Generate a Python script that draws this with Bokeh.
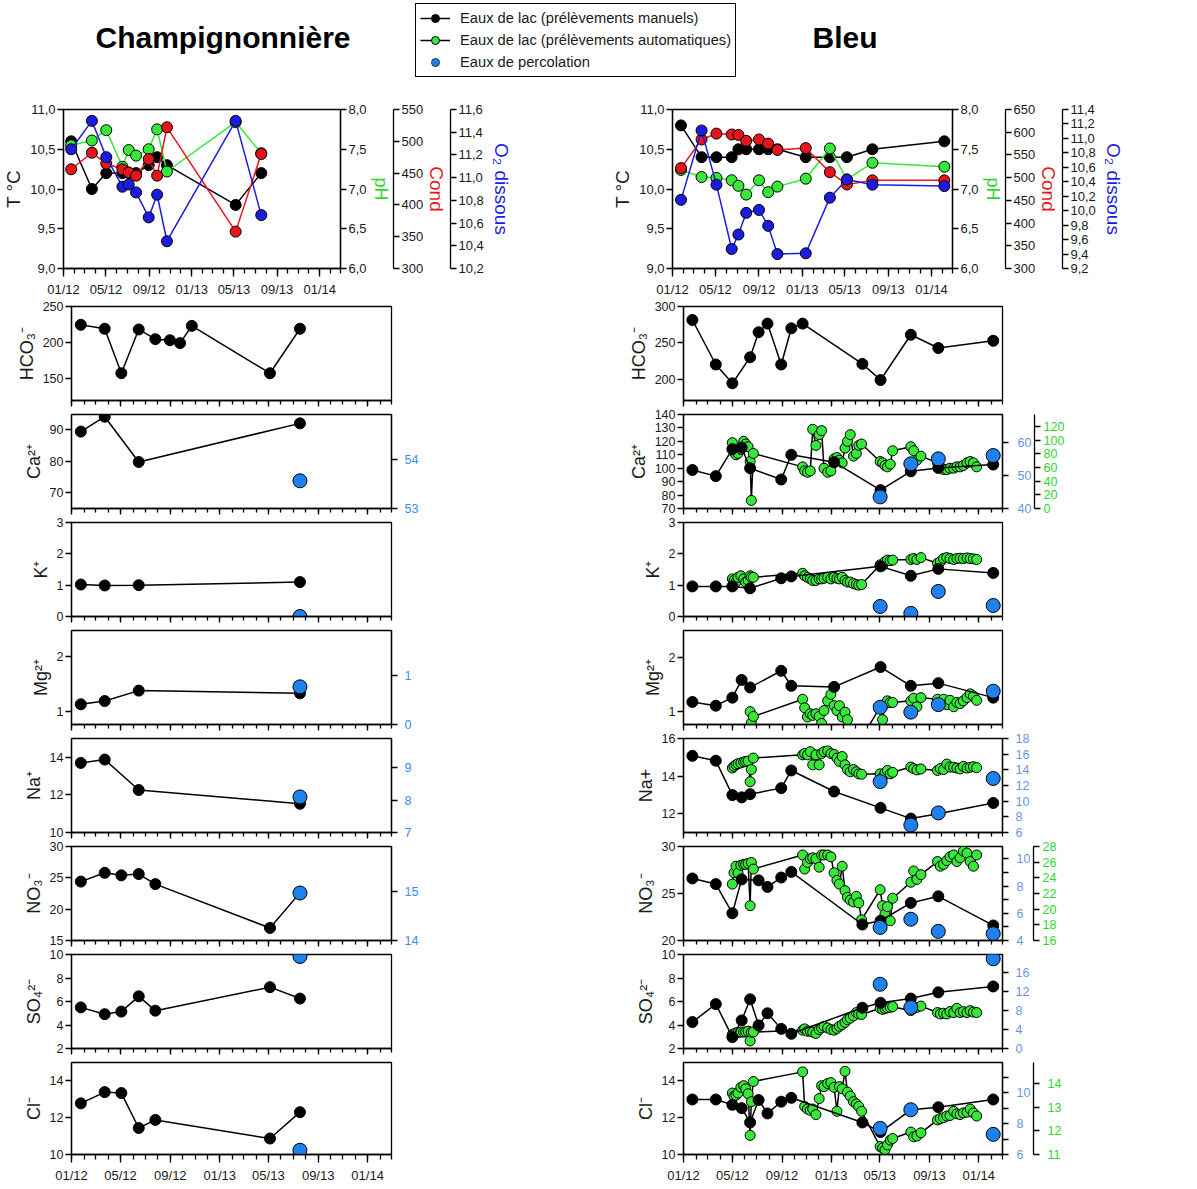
import pandas as pd
from bokeh.plotting import figure
from bokeh.models import (Range1d, LinearAxis, FixedTicker, CustomJSTickFormatter,
                          CustomLabelingPolicy, Legend, LegendItem, Label, ColumnDataSource)
from bokeh.layouts import column, row
from bokeh.embed import file_html
from bokeh.resources import INLINE

# ---------------------------------------------------------------- data
site_titles = ["Champignonnière", "Bleu"]
legend_labels = ["Eaux de lac (prélèvements manuels)",
                 "Eaux de lac (prélèvements automatiques)",
                 "Eaux de percolation"]
top_axis_titles = ["pH", "Cond", "O₂ dissous"]
x_tick_dates = ["2012-01-01", "2012-05-01", "2012-09-01", "2013-01-01",
                "2013-05-01", "2013-09-01", "2014-01-01"]
x_tick_labels = ["01/12", "05/12", "09/12", "01/13", "05/13", "09/13", "01/14"]

# --- Champignonnière (days since 2012-01-01)
ch_top_days = [22, 81, 122, 168, 186, 207, 243, 267, 295, 491, 564]
ch_temp = [10.60, 10.00, 10.20, 10.20, 10.20, 10.20, 10.30, 10.40, 10.30, 9.80, 10.20]
ch_ph = [7.55, 7.61, 7.74, 7.28, 7.49, 7.42, 7.50, 7.75, 7.22, 7.84, 7.45]
ch_cond = [456, 482, 465, 456, 451, 446, 472, 446, 522, 358, 480]
ch_o2 = [11.25, 11.50, 11.18, 10.92, 10.94, 10.87, 10.65, 10.85, 10.44, 11.50, 10.67]

ch_hco3_days = [23, 82, 123, 166, 207, 243, 268, 297, 490, 564]
ch_hco3 = [224.5, 219, 157, 218, 204.5, 203, 199, 223, 157, 219]
ch_cat_days = [23, 82, 166, 564]
ch_ca = [89.4, 94.1, 79.8, 92.0]
ch_k = [1.02, 0.99, 1.00, 1.10]
ch_mg = [1.13, 1.19, 1.38, 1.33]
ch_na = [13.70, 13.88, 12.26, 11.53]
ch_an_days = [23, 82, 123, 166, 207, 490, 564]
ch_no3 = [24.4, 25.8, 25.4, 25.6, 24.0, 17.0, 22.6]
ch_so4 = [5.50, 4.92, 5.14, 6.44, 5.22, 7.22, 6.25]
ch_cl = [12.78, 13.39, 13.34, 11.44, 11.88, 10.87, 12.30]
ch_perc_days = [564]
ch_perc_ca = [53.56]
ch_perc_k = [0.0]
ch_perc_mg = [0.765]
ch_perc_na = [8.1]
ch_perc_no3 = [14.96]
ch_perc_so4 = [9.83]
ch_perc_cl = [10.23]

# --- Bleu
bl_top_days = [24, 82, 124, 167, 186, 208, 244, 270, 296, 376, 444, 492, 564, 767]
bl_temp = [10.80, 10.40, 10.40, 10.40, 10.50, 10.50, 10.50, 10.50, 10.50, 10.40, 10.40, 10.40, 10.50, 10.60]
bl_ph = [7.24, 7.15, 7.14, 7.11, 7.04, 6.93, 7.11, 6.96, 7.03, 7.13, 7.51, 7.12, 7.33, 7.28]
bl_cond = [521, 584, 597, 595, 594, 581, 584, 575, 561, 565, 512, 485, 494, 494]
bl_o2 = [10.15, 11.11, 10.36, 9.47, 9.67, 9.97, 10.01, 9.79, 9.40, 9.41, 10.18, 10.43, 10.36, 10.34]

bl_man_days = [22, 80, 121, 144, 165, 186, 208, 242, 267, 295, 373, 443, 488, 563, 631, 767]
bl_hco3 = [281.5, 220.4, 194.6, None, 230.3, 264.7, 276.5, 220.4, 270.1, 276.5, None, 221.3, 199.1, 261.2, 243.0, 253.0]
bl_ca = [98.7, 94.1, 114.2, 115.4, 100.0, None, None, 91.6, 110.0, None, 104.5, None, 83.7, 97.7, 100.2, 102.7]
bl_k = [0.96, 0.96, 0.96, None, 0.90, None, None, 1.22, 1.28, None, None, None, 1.60, 1.30, 1.52, 1.39]
bl_mg = [1.18, 1.11, 1.26, 1.59, 1.45, None, None, 1.76, 1.48, None, 1.46, None, 1.83, 1.48, 1.53, 1.26]
bl_na = [15.08, 14.82, 12.99, 12.87, 13.04, None, None, 13.36, 14.30, None, 13.18, None, 12.31, 11.74, 12.00, 12.57]
bl_no3 = [26.6, 26.0, 22.9, 26.5, None, 26.4, 25.7, 26.7, 27.3, None, None, 21.7, 22.1, 24.0, 24.7, 21.6]
bl_so4 = [4.25, 5.78, 2.97, 4.39, 6.19, 3.97, 5.00, 3.67, 3.25, None, None, 5.47, 5.89, 6.25, 6.78, 7.28]
bl_cl = [12.99, 12.99, 12.70, 12.52, 11.74, 12.96, 12.23, 12.87, 13.08, None, None, 11.74, 11.22, 12.43, 12.57, 12.99]

bl_auto_days = [121, 125, 130, 135, 142, 149, 154, 160, 165, 168, 173,
                295, 300, 307, 314, 320, 328, 336, 342, 348, 357, 365, 373, 380, 386, 393, 400, 406, 413, 421, 428, 434, 441,
                487, 493, 499, 505, 512, 518, 563, 570, 578, 588,
                629, 636, 644, 652, 660, 669, 677, 685, 693, 702, 710, 718, 726]
bl_auto_ca = [119, 112, 110, 111, 114, 120, 118, 116, 105, 76, 111,
              101, 98, 97, 98, 129, 117, 125, 128, 100, 97, 98, 107, 108, 106, 104, 115, 120, 125, 109, 111, 117, 118,
              105, 104, 102, 101, 103, 113, 116, 113, 106, 109,
              104, 101, 99, 99, 100, 100, 101, 101, 102, 104, 105, 104, 101]
bl_auto_k = [1.20, 1.15, 1.10, 1.25, 1.30, 1.20, 1.10, 1.15, 1.30, 1.25, 1.25,
             1.38, 1.30, 1.25, 1.20, 1.15, 1.15, 1.20, 1.20, 1.22, 1.25, 1.20, 1.25, 1.22, 1.20, 1.25, 1.15, 1.10, 1.10, 1.05, 1.02, 1.00, 1.02,
             1.65, 1.62, 1.75, 1.80, 1.78, 1.80, 1.82, 1.85, 1.82, 1.88,
             1.70, 1.75, 1.85, 1.88, 1.85, 1.82, 1.85, 1.86, 1.85, 1.87, 1.85, 1.84, 1.82]
bl_auto_mg = [None, None, None, None, None, None, None, None, 1.00, 0.79, 0.91,
              1.23, 1.07, 0.90, 0.96, 0.93, 0.96, 0.91, 0.78, 1.02, 1.20, 1.32, 1.11, 1.02, 1.11, 0.90, 0.99, 0.85, 0.50, None, None, None, 0.50,
              1.09, 0.85, 1.14, 1.20, 1.17, 1.17, 1.20, 1.25, 1.09, 1.26,
              1.23, 1.14, 1.23, 1.13, 1.21, 1.09, 1.17, 1.15, 1.20, 1.26, 1.33, 1.29, 1.21]
bl_auto_na = [14.43, 14.52, 14.60, 14.66, 14.70, 14.75, 14.78, 14.80, 13.70, 14.35, 14.96,
              15.13, 15.20, 15.13, 15.30, 14.60, 15.13, 14.60, 15.20, 15.30, 15.34, 15.20, 15.15, 14.96, 14.78, 15.04, 14.60, 14.35, 14.23, 14.35, 14.23, 14.12, 14.10,
              14.12, 13.95, 14.17, 14.30, 14.12, 14.20, 14.48, 14.40, 14.33, 14.38,
              14.30, 14.40, 14.35, 14.64, 14.48, 14.47, 14.43, 14.38, 14.52, 14.43, 14.47, 14.50, 14.45]
bl_auto_no3 = [26.0, 27.2, 27.9, 27.2, 28.0, 28.1, 28.1, 28.2, 23.7, 28.3, 27.6,
               29.1, 27.6, 28.3, 28.7, 28.8, 28.7, 27.8, 29.1, 29.1, 29.1, 28.9, 27.2, 26.4, 26.0, 27.9, 25.3, 24.6, 24.3, 24.1, 24.7, 24.0, 22.2,
               25.4, 23.7, 22.8, 23.6, 22.1, 24.5, 26.2, 27.4, 26.5, 27.0,
               28.4, 27.9, 28.1, 28.5, 28.9, 29.1, 28.4, 28.8, 29.5, 29.3, 28.4, 27.9, 29.1]
bl_auto_so4 = [3.19, 3.25, 3.33, 3.36, 3.39, 3.39, 3.42, 3.47, 2.64, 3.39, 3.40,
               3.56, 3.67, 3.47, 3.47, 3.39, 3.28, 3.61, 3.75, 3.89, 3.75, 3.61, 3.56, 3.70, 3.89, 4.03, 4.22, 4.45, 4.58, 4.78, 5.06, 4.94, 4.90,
               5.42, 5.33, 5.40, 5.47, 5.50, 5.56, 5.22, 5.42, 5.50, 5.61,
               5.06, 4.94, 5.00, 4.94, 5.14, 5.06, 5.42, 5.06, 5.14, 5.06, 5.22, 5.10, 5.06]
bl_auto_cl = [13.34, 13.17, 13.22, 13.34, 13.65, 13.74, 13.57, 13.30, 11.04, 12.87, 13.97,
              14.49, 12.61, 12.47, 12.40, 12.47, 12.17, 13.04, 13.74, 13.69, 13.86, 13.91, 13.65, 12.35, 13.69, 13.57, 14.52, 13.39, 13.17, 12.87, 12.75, 12.61, 12.35,
              10.43, 10.35, 10.26, 10.52, 10.78, 10.87, 11.22, 10.96, 11.01, 11.18,
              11.88, 11.95, 12.00, 12.09, 12.12, 12.35, 12.21, 12.17, 12.26, 12.30, 12.47, 12.26, 12.09]

bl_perc_days = [487, 563, 631, 767]
bl_perc_ca = [43.5, 53.5, 55.0, 56.0]
bl_perc_k = [0.32, 0.10, 0.80, 0.35]
bl_perc_mg = [1.08, 0.99, 1.13, 1.38]
bl_perc_na = [12.5, 6.96, 8.5, 12.9]
bl_perc_no3 = [4.96, 5.56, 4.67, 4.50]
bl_perc_so4 = [13.6, 8.7, None, 19.0]
bl_perc_cl = [7.69, 8.89, None, 7.30]

# ---------------------------------------------------------------- style
FONT = "Liberation Sans"
INK = "#1a1a1a"
GREEN = "#38e838"
GREEN_TXT = "#2fd62f"
RED = "#e8141b"
BLUE_O2 = "#1c1ce0"
PERC = "#1f80f0"
PERC_TXT_L = "#3b8cf0"
PERC_TXT_R = "#6b94e6"

X_START = pd.Timestamp("2012-01-01")
X_END = pd.Timestamp("2014-03-01")


def ms(ts):
    return int(pd.Timestamp(ts).value // 10**6)


X_MAJOR = [ms(d) for d in x_tick_dates]
X_MINOR = [ms(d) for d in pd.date_range(X_START, X_END, freq="MS")]


def days_to_dt(days):
    return (X_START + pd.to_timedelta(list(days), unit="D")).values


def x_formatter():
    return CustomJSTickFormatter(args=dict(major_pos=X_MAJOR, major_txt=x_tick_labels), code="""
        const i = major_pos.indexOf(tick);
        if (i >= 0) { return major_txt[i]; }
        const d = new Date(tick);
        const m = String(d.getUTCMonth() + 1).padStart(2, '0');
        const y = String(d.getUTCFullYear() % 100).padStart(2, '0');
        return m + '/' + y;
    """)


def y_formatter(dec):
    return CustomJSTickFormatter(code=f"return tick.toFixed({dec}).replace('.', ',');")


def style_axis(ax, label_color=INK, tick_out=6, font_size="13px", standoff=2):
    ax.axis_line_color = "black"
    ax.axis_line_width = 1.3
    ax.major_tick_line_color = "black"
    ax.major_tick_line_width = 1.3
    ax.major_tick_in = 0
    ax.major_tick_out = tick_out
    ax.minor_tick_line_color = None
    ax.major_label_text_font = FONT
    ax.major_label_text_font_size = font_size
    ax.major_label_text_color = label_color
    ax.major_label_standoff = standoff
    ax.axis_label_text_font = FONT
    ax.axis_label_text_font_style = "normal"
    ax.axis_label_standoff = 3


def base_fig(w, h, ml, mr, mt, mb, yr, show_x_labels):
    p = figure(width=w, height=h, x_axis_type="datetime",
               x_range=Range1d(X_START, X_END), y_range=Range1d(yr[0], yr[1]),
               output_backend="svg", toolbar_location=None,
               min_border_left=ml, min_border_right=mr,
               min_border_top=mt, min_border_bottom=mb)
    p.xgrid.visible = False
    p.ygrid.visible = False
    p.outline_line_color = "black"
    p.outline_line_width = 1.3
    p.outline_line_alpha = 1.0
    xa = p.xaxis[0]
    xa.ticker = FixedTicker(ticks=X_MAJOR, minor_ticks=X_MINOR)
    xa.formatter = x_formatter()
    style_axis(xa, tick_out=8 if show_x_labels else 6)
    xa.minor_tick_line_color = "black"
    xa.minor_tick_line_width = 1.3
    xa.minor_tick_in = 0
    xa.minor_tick_out = 5 if show_x_labels else 4
    if show_x_labels:
        xa.major_label_standoff = 5
    else:
        xa.major_label_text_font_size = "0px"
        xa.major_label_standoff = 0
        xa.major_label_policy = CustomLabelingPolicy(
            code="for (const i of indices) { indices.unset(i) } return indices")
    return p


def set_left_axis(p, ticks, dec, label, label_size="18px", font_size="13px"):
    ya = p.yaxis[0]
    ya.ticker = FixedTicker(ticks=ticks)
    ya.formatter = y_formatter(dec)
    style_axis(ya, font_size=font_size)
    ya.axis_label = label
    ya.axis_label_text_font_size = label_size
    ya.axis_label_text_color = INK


def add_right_axis(p, name, yr, ticks, dec, tick_color, minor=None,
                   font_size="12.5px", standoff=7, label=None, label_color=INK,
                   label_size="18px", label_standoff=3):
    p.extra_y_ranges = {**p.extra_y_ranges, name: Range1d(yr[0], yr[1])}
    ax = LinearAxis(y_range_name=name,
                    ticker=FixedTicker(ticks=ticks, minor_ticks=minor or []),
                    formatter=y_formatter(dec))
    style_axis(ax, label_color=tick_color, font_size=font_size, standoff=standoff)
    if minor:
        ax.minor_tick_line_color = "black"
        ax.minor_tick_line_width = 1.3
        ax.minor_tick_in = 0
        ax.minor_tick_out = 6
    if label:
        ax.axis_label = label
        ax.axis_label_text_color = label_color
        ax.axis_label_text_font_size = label_size
        ax.axis_label_standoff = label_standoff
    p.add_layout(ax, "right")


def plot_series(p, days, vals, fill, size, line_color=None, y_range_name="default"):
    pts = [(d, v) for d, v in zip(days, vals) if v is not None]
    src = ColumnDataSource(dict(x=days_to_dt([d for d, _ in pts]),
                                y=[v for _, v in pts]))
    if line_color is not None:
        p.line("x", "y", source=src, line_color=line_color, line_width=1.5,
               y_range_name=y_range_name)
    p.scatter("x", "y", source=src, size=size, fill_color=fill,
              line_color="black", line_width=1.0, y_range_name=y_range_name)


T_TICKS = [9.0, 9.5, 10.0, 10.5, 11.0]
PH_TICKS = [6.0, 6.5, 7.0, 7.5, 8.0]

HDR_H = 85
TOP_H, TOP_MT, TOP_MB = 214, 24, 29
LOWER_H, LOWER_MT, LOWER_MB = 108, 7, 7
LAST_H, LAST_MB = 130, 29


def top_panel(w, ml, mr, days, temp, ph, cond, o2, cond_rng, cond_ticks,
              o2_rng, o2_ticks):
    p = base_fig(w, TOP_H, ml, mr, TOP_MT, TOP_MB, (9.0, 11.0), True)
    set_left_axis(p, T_TICKS, 1, "T °C", "19px")
    add_right_axis(p, "ph", (6.0, 8.0), PH_TICKS, 1, INK, font_size="13px", standoff=2,
                   label=top_axis_titles[0], label_color=GREEN_TXT, label_size="18px",
                   label_standoff=1)
    add_right_axis(p, "cond", cond_rng, cond_ticks, 0, INK, font_size="13px", standoff=2,
                   label=top_axis_titles[1], label_color=RED, label_size="19px",
                   label_standoff=0)
    add_right_axis(p, "o2", o2_rng, o2_ticks, 1, INK, font_size="13px", standoff=2,
                   label=top_axis_titles[2], label_color=BLUE_O2, label_size="19px",
                   label_standoff=4)
    plot_series(p, days, temp, "black", 11, "black")
    plot_series(p, days, ph, GREEN, 11, GREEN, "ph")
    plot_series(p, days, cond, RED, 11, RED, "cond")
    plot_series(p, days, o2, BLUE_O2, 11, BLUE_O2, "o2")
    return p


def lower(w, ml, mr, last, yr, ticks, dec, label):
    h, mb = (LAST_H, LAST_MB) if last else (LOWER_H, LOWER_MB)
    p = base_fig(w, h, ml, mr, LOWER_MT, mb, yr, last)
    set_left_axis(p, ticks, dec, label, font_size="12.5px")
    return p


# ---------------------------------------------------------------- left column
LW, LML, LMR = 608, 71, 217
ch_top = top_panel(LW, 62, 268, ch_top_days, ch_temp, ch_ph, ch_cond, ch_o2,
                   (300, 550), [300, 350, 400, 450, 500, 550],
                   (10.2, 11.6), [10.2, 10.4, 10.6, 10.8, 11.0, 11.2, 11.4, 11.6])

c1 = lower(LW, LML, LMR, False, (119, 250), [150, 200, 250], 0, "HCO₃⁻")
plot_series(c1, ch_hco3_days, ch_hco3, "black", 11, "black")

c2 = lower(LW, LML, LMR, False, (65.1, 94.8), [70, 80, 90], 0, "Ca²⁺")
add_right_axis(c2, "perc", (53.0, 54.9), [53, 54], 0, PERC_TXT_L)
plot_series(c2, ch_cat_days, ch_ca, "black", 11, "black")
plot_series(c2, ch_perc_days, ch_perc_ca, PERC, 14, None, "perc")

c3 = lower(LW, LML, LMR, False, (0, 3), [0, 1, 2, 3], 0, "K⁺")
plot_series(c3, ch_cat_days, ch_k, "black", 11, "black")
plot_series(c3, ch_perc_days, ch_perc_k, PERC, 14, None)

c4 = lower(LW, LML, LMR, False, (0.76, 2.48), [1, 2], 0, "Mg²⁺")
add_right_axis(c4, "perc", (0.0, 1.91), [0, 1], 0, PERC_TXT_L)
plot_series(c4, ch_cat_days, ch_mg, "black", 11, "black")
plot_series(c4, ch_perc_days, ch_perc_mg, PERC, 14, None, "perc")

c5 = lower(LW, LML, LMR, False, (10, 15), [10, 12, 14], 0, "Na⁺")
add_right_axis(c5, "perc", (7.0, 9.91), [7, 8, 9], 0, PERC_TXT_L)
plot_series(c5, ch_cat_days, ch_na, "black", 11, "black")
plot_series(c5, ch_perc_days, ch_perc_na, PERC, 14, None, "perc")

c6 = lower(LW, LML, LMR, False, (15, 30), [15, 20, 25, 30], 0, "NO₃⁻")
add_right_axis(c6, "perc", (14.0, 15.9), [14, 15], 0, PERC_TXT_L)
plot_series(c6, ch_an_days, ch_no3, "black", 11, "black")
plot_series(c6, ch_perc_days, ch_perc_no3, PERC, 14, None, "perc")

c7 = lower(LW, LML, LMR, False, (2, 10), [2, 4, 6, 8, 10], 0, "SO₄²⁻")
plot_series(c7, ch_an_days, ch_so4, "black", 11, "black")
plot_series(c7, ch_perc_days, ch_perc_so4, PERC, 14, None)

c8 = lower(LW, LML, LMR, True, (10, 15), [10, 12, 14], 0, "Cl⁻")
plot_series(c8, ch_an_days, ch_cl, "black", 11, "black")
plot_series(c8, ch_perc_days, ch_perc_cl, PERC, 14, None)

# ---------------------------------------------------------------- right column
RW, RML, RMR = 585, 75, 191
bl_top = top_panel(RW, 64, 241, bl_top_days, bl_temp, bl_ph, bl_cond, bl_o2,
                   (300, 650), [300, 350, 400, 450, 500, 550, 600, 650],
                   (9.2, 11.4), [9.2, 9.4, 9.6, 9.8, 10.0, 10.2, 10.4, 10.6, 10.8, 11.0, 11.2, 11.4])

b1 = lower(RW, RML, RMR, False, (171, 300), [200, 250, 300], 0, "HCO₃⁻")
plot_series(b1, bl_man_days, bl_hco3, "black", 11, "black")

b2 = lower(RW, RML, RMR, False, (70, 140), [70, 80, 90, 100, 110, 120, 130, 140], 0, "Ca²⁺")
add_right_axis(b2, "perc", (40.0, 68.4), [40, 50, 60], 0, PERC_TXT_R, standoff=9)
add_right_axis(b2, "auto", (0.0, 137.7), [0, 20, 40, 60, 80, 100, 120], 0, GREEN_TXT, standoff=3)
plot_series(b2, bl_auto_days, bl_auto_ca, GREEN, 10, "black")
plot_series(b2, bl_man_days, bl_ca, "black", 11, "black")
plot_series(b2, bl_perc_days, bl_perc_ca, PERC, 14, None, "perc")

b3 = lower(RW, RML, RMR, False, (0, 3), [0, 1, 2, 3], 0, "K⁺")
plot_series(b3, bl_auto_days, bl_auto_k, GREEN, 10, "black")
plot_series(b3, bl_man_days, bl_k, "black", 11, "black")
plot_series(b3, bl_perc_days, bl_perc_k, PERC, 14, None)

b4 = lower(RW, RML, RMR, False, (0.76, 2.51), [1, 2], 0, "Mg²⁺")
plot_series(b4, bl_auto_days, bl_auto_mg, GREEN, 10, "black")
plot_series(b4, bl_man_days, bl_mg, "black", 11, "black")
plot_series(b4, bl_perc_days, bl_perc_mg, PERC, 14, None)

b5 = lower(RW, RML, RMR, False, (11, 16), [12, 14, 16], 0, "Na+")
add_right_axis(b5, "perc", (6.0, 18.0), [6, 8, 10, 12, 14, 16, 18], 0, PERC_TXT_R)
plot_series(b5, bl_auto_days, bl_auto_na, GREEN, 10, "black")
plot_series(b5, bl_man_days, bl_na, "black", 11, "black")
plot_series(b5, bl_perc_days, bl_perc_na, PERC, 14, None, "perc")

b6 = lower(RW, RML, RMR, False, (20, 30), [20, 25, 30], 0, "NO₃⁻")
add_right_axis(b6, "perc", (4.0, 10.9), [4, 6, 8, 10], 0, PERC_TXT_R, minor=[5, 7, 9], standoff=8)
add_right_axis(b6, "auto", (16.0, 28.0), [16, 18, 20, 22, 24, 26, 28], 0, GREEN_TXT, standoff=3)
plot_series(b6, bl_auto_days, bl_auto_no3, GREEN, 10, "black")
plot_series(b6, bl_man_days, bl_no3, "black", 11, "black")
plot_series(b6, bl_perc_days, bl_perc_no3, PERC, 14, None, "perc")

b7 = lower(RW, RML, RMR, False, (2, 10), [2, 4, 6, 8, 10], 0, "SO₄²⁻")
add_right_axis(b7, "perc", (0.0, 19.9), [0, 4, 8, 12, 16], 0, PERC_TXT_R)
plot_series(b7, bl_auto_days, bl_auto_so4, GREEN, 10, "black")
plot_series(b7, bl_man_days, bl_so4, "black", 11, "black")
plot_series(b7, bl_perc_days, bl_perc_so4, PERC, 14, None, "perc")

b8 = lower(RW, RML, RMR, True, (10, 15), [10, 12, 14], 0, "Cl⁻")
add_right_axis(b8, "perc", (6.0, 11.94), [6, 8, 10], 0, PERC_TXT_R, minor=[7, 9, 11], standoff=8)
add_right_axis(b8, "auto", (11.0, 14.89), [11, 12, 13, 14], 0, GREEN_TXT, standoff=8)
plot_series(b8, bl_auto_days, bl_auto_cl, GREEN, 10, "black")
plot_series(b8, bl_man_days, bl_cl, "black", 11, "black")
plot_series(b8, bl_perc_days, bl_perc_cl, PERC, 14, None, "perc")

# wrap each plot in its own container so frames are not aligned across panels
left_col = column([row(p, spacing=0) for p in [ch_top, c1, c2, c3, c4, c5, c6, c7, c8]], spacing=0)
right_col = column([row(p, spacing=0) for p in [bl_top, b1, b2, b3, b4, b5, b6, b7, b8]], spacing=0)

# ---------------------------------------------------------------- header
hdr = figure(width=LW + RW, height=HDR_H, x_range=Range1d(0, 1), y_range=Range1d(0, 1),
             x_axis_location=None, y_axis_location=None,
             output_backend="svg", toolbar_location=None, min_border=0)
hdr.grid.visible = False
hdr.outline_line_color = None
nan_pt = dict(x=[float("nan")], y=[float("nan")])
r_man_l = hdr.line("x", "y", source=ColumnDataSource(nan_pt), line_color="black", line_width=1.5)
r_man_s = hdr.scatter("x", "y", source=ColumnDataSource(nan_pt), size=7, fill_color="black", line_color="black")
r_aut_l = hdr.line("x", "y", source=ColumnDataSource(nan_pt), line_color="black", line_width=1.5)
r_aut_s = hdr.scatter("x", "y", source=ColumnDataSource(nan_pt), size=7, fill_color=GREEN, line_color="black")
r_per_s = hdr.scatter("x", "y", source=ColumnDataSource(nan_pt), size=8, fill_color=PERC, line_color="#333333")
legend = Legend(items=[LegendItem(label=legend_labels[0], renderers=[r_man_l, r_man_s]),
                       LegendItem(label=legend_labels[1], renderers=[r_aut_l, r_aut_s]),
                       LegendItem(label=legend_labels[2], renderers=[r_per_s])],
                location=(415, 8), orientation="vertical",
                border_line_color="black", border_line_width=1, border_line_alpha=1,
                background_fill_color="white", background_fill_alpha=1,
                label_text_font=FONT, label_text_font_size="14.7px", label_text_color=INK,
                glyph_width=30, glyph_height=20, label_height=20, label_standoff=10,
                spacing=2, padding=4, margin=0)
hdr.add_layout(legend)
for txt, tx in zip(site_titles, [95, 812]):
    hdr.add_layout(Label(x=tx, y=HDR_H - 37, x_units="screen", y_units="screen", text=txt,
                         text_font=FONT, text_font_size="30px", text_font_style="bold",
                         text_baseline="middle", text_color="black"))

root = column(hdr, row(left_col, right_col, spacing=0), spacing=0)

with open("out.html", "w", encoding="utf-8") as f:
    f.write(file_html(root, INLINE, "Champignonnière / Bleu"))
